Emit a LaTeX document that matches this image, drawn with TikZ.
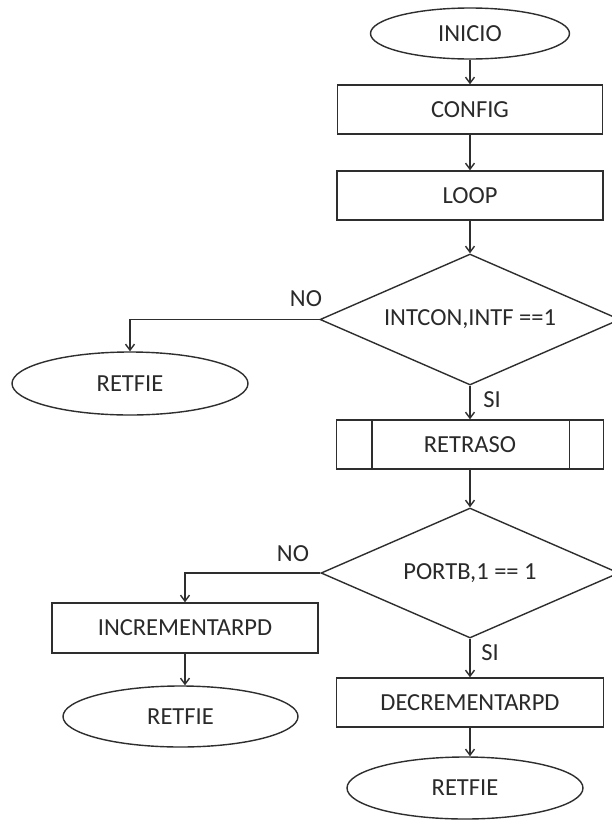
\documentclass[tikz,border=0pt]{standalone}
\usepackage{fontspec}
\setmainfont{Carlito}
\usetikzlibrary{shapes.geometric,arrows.meta}
\definecolor{ink}{HTML}{2E2E2E}
\definecolor{txt}{HTML}{2A2A2A}
\tikzset{
  base/.style={draw=ink, line width=1.4pt, inner sep=0pt, text=txt,
    font=\fontsize{24.5}{29}\selectfont},
  term/.style={base, ellipse},
  proc/.style={base, rectangle},
  dec/.style={base, diamond, aspect=2.29},
  lbl/.style={text=txt, inner sep=0pt, font=\fontsize{24.5}{29}\selectfont},
  arr/.style={draw=ink, line width=1.4pt, -{Straight Barb[length=6pt,width=9pt]}},
  sub/.style={draw=ink, line width=1.4pt}
}
\begin{document}
\begin{tikzpicture}[x=1pt,y=-1pt]
\useasboundingbox (0,0) rectangle (612,820);
\clip (0,0) rectangle (612,820);
\fill[white] (0,0) rectangle (612,820);

\node[term, minimum width=199pt, minimum height=51pt] (inicio) at (470,33.5) {INICIO};
\node[proc, minimum width=265pt, minimum height=49pt] (config) at (470,109.5) {CONFIG};
\node[proc, minimum width=266pt, minimum height=49pt] (loop) at (470,195.5) {LOOP};
\node[dec, minimum width=300pt, minimum height=131pt] (dec1) at (470,319.5) {INTCON,INTF ==1};
\node[term, minimum width=236pt, minimum height=63pt] (ret1) at (130,383.5) {RETFIE};
\node[proc, minimum width=267pt, minimum height=49pt] (retraso) at (470,444.5) {RETRASO};
\draw[sub] ([xshift=36pt]retraso.north west) -- ([xshift=36pt]retraso.south west);
\draw[sub] ([xshift=-35pt]retraso.north east) -- ([xshift=-35pt]retraso.south east);
\node[dec, minimum width=298pt, minimum height=130pt] (dec2) at (470,573) {PORTB,1 == 1};
\node[proc, minimum width=266pt, minimum height=50pt] (incr) at (185,628) {INCREMENTARPD};
\node[term, minimum width=235pt, minimum height=61pt] (ret2) at (180.5,716.5) {RETFIE};
\node[proc, minimum width=267pt, minimum height=49pt] (decr) at (470,702.5) {DECREMENTARPD};
\node[term, minimum width=236pt, minimum height=62pt] (ret3) at (465,788) {RETFIE};

\draw[arr] (inicio.south) -- (config.north);
\draw[arr] (config.south) -- (loop.north);
\draw[arr] (loop.south) -- (dec1.north);
\draw[arr] (dec1.west) -| (ret1.north);
\draw[arr] (dec1.south) -- (retraso.north);
\draw[arr] (retraso.south) -- (dec2.north);
\draw[arr] (dec2.west) -| (incr.north);
\draw[arr] (dec2.south) -- (decr.north);
\draw[arr] (incr.south) -- (incr.south |- ret2.north);
\draw[arr] (decr.south) -- (decr.south |- ret3.north);

\node[lbl] (no1) at (306,299) {NO};
\node[lbl] (si1) at (492,400) {SI};
\node[lbl] (no2) at (293,554) {NO};
\node[lbl] (si2) at (490,653) {SI};
\end{tikzpicture}
\end{document}
